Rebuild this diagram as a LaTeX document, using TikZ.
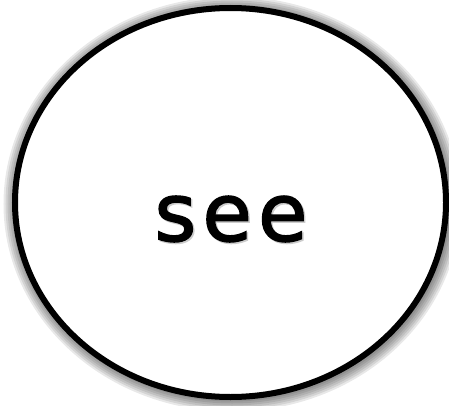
\documentclass[tikz,border=0pt]{standalone}
\usepackage{fontspec}
\setsansfont{Liberation Sans}
\newfontfamily\seefont[LetterSpace=8, FakeBold=2]{DejaVu Sans}
\usetikzlibrary{shapes.geometric}
\tikzset{
  bubble/.style={draw=black, line width=6pt, ellipse, fill=white, inner sep=0pt,
    minimum width=431pt, minimum height=389pt},
  glow/.style={ellipse, inner sep=0pt, minimum width=431pt, minimum height=389pt},
  word/.style={font=\seefont\fontsize{80}{80}\selectfont, text=black}
}
\begin{document}
\begin{tikzpicture}[x=1pt,y=1pt]
        \useasboundingbox (0,0) rectangle (449,405);
        % soft shadow round the ring
        \foreach \w in {26,22,...,6}
          \node[glow, draw=black, draw opacity=0.09, line width=\w pt] at (232,201) {};
        \node[bubble] (ring) at (230.5,202.5) {};
        \node[word, text=black!20] at (232.5,184.5) {see};
        \node[word] (see) at (231,186) {see};
    \end{tikzpicture}
\end{document}
